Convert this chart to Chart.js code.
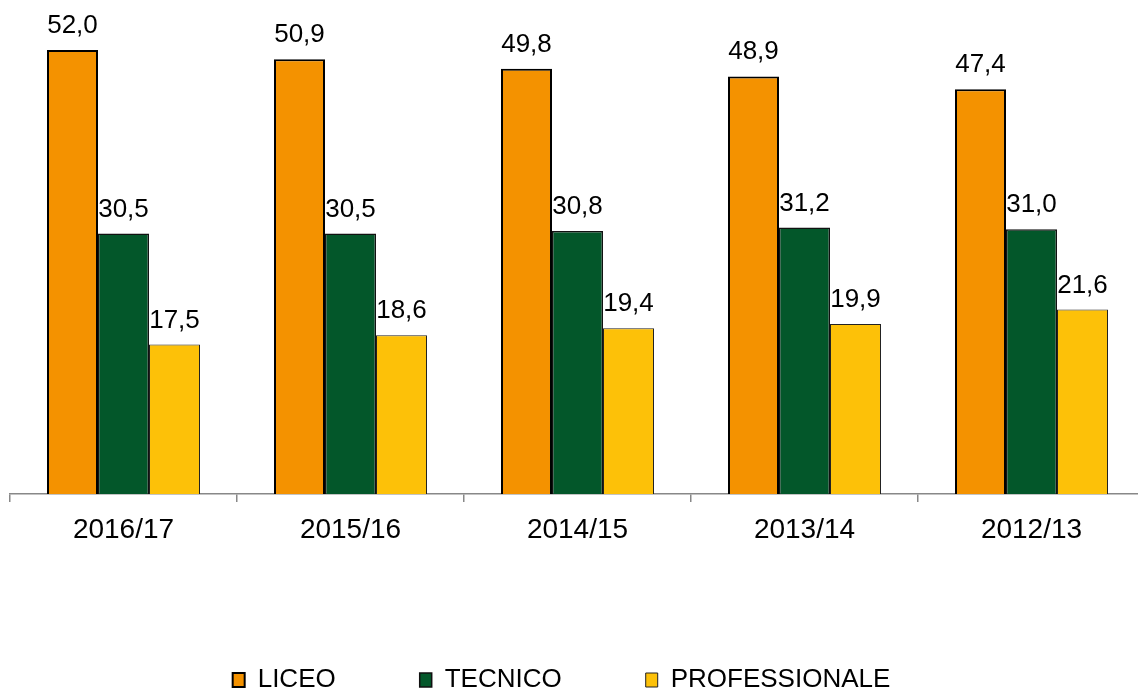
<!DOCTYPE html>
<html>
<head>
<meta charset="utf-8">
<script src="https://cdn.jsdelivr.net/npm/chart.js@4/dist/chart.umd.min.js"></script>
<style>
    html, body { margin: 0; padding: 0; background: #fff; overflow: hidden; }
    #wrap { position: absolute; left: 0; top: 0; }
</style>
</head>
<body>
<div id="wrap"><canvas id="chart" width="1146" height="693"></canvas></div>
<script>
const categories = ['2016/17', '2015/16', '2014/15', '2013/14', '2012/13'];
const seriesNames = ['LICEO', 'TECNICO', 'PROFESSIONALE'];
const liceo = [52.0, 50.9, 49.8, 48.9, 47.4];
const tecnico = [30.5, 30.5, 30.8, 31.2, 31.0];
const professionale = [17.5, 18.6, 19.4, 19.9, 21.6];

const fontFamily = "'Liberation Sans', Arial, sans-serif";

function formatValue(v) {
    return v.toFixed(1).replace('.', ',');
}

// value labels above each bar
const barLabels = {
    id: 'barLabels',
    afterDatasetsDraw(chart) {
        const ctx = chart.ctx;
        ctx.save();
        ctx.font = '26px ' + fontFamily;
        ctx.fillStyle = '#000';
        ctx.textAlign = 'center';
        ctx.textBaseline = 'alphabetic';
        chart.data.datasets.forEach((ds, i) => {
            chart.getDatasetMeta(i).data.forEach((bar, j) => {
                ctx.fillText(formatValue(ds.data[j]), bar.x, bar.y - 17);
            });
        });
        ctx.restore();
    }
};

// move the legend a bit to the left, like the original
const legendShift = {
    id: 'legendShift',
    afterLayout(chart) {
        chart.legend.left -= 16;
        chart.legend.right -= 16;
    }
};

new Chart(document.getElementById('chart'), {
    type: 'bar',
    data: {
        labels: categories,
        datasets: [
            { label: seriesNames[0], data: liceo, backgroundColor: '#F49200', borderColor: '#000', borderWidth: 2 },
            { label: seriesNames[1], data: tecnico, backgroundColor: '#03572A', borderColor: '#111', borderWidth: 1.5 },
            { label: seriesNames[2], data: professionale, backgroundColor: '#FDC108', borderColor: '#222', borderWidth: 1 }
        ]
    },
    options: {
        responsive: false,
        animation: false,
        layout: { padding: { left: 10, right: 1, top: 0, bottom: -10 } },
        datasets: {
            bar: { categoryPercentage: 0.674, barPercentage: 1, borderSkipped: 'bottom' }
        },
        scales: {
            x: {
                grid: { offset: true, drawOnChartArea: false, drawTicks: true, tickLength: 8, color: '#888', lineWidth: 1.5 },
                border: { display: true, color: '#888', width: 1.5 },
                ticks: { color: '#000', padding: 11, font: { size: 28, family: fontFamily } },
                afterFit: function(scale) { scale.height = 89; }
            },
            y: { display: false, min: 0, max: 57.85 }
        },
        plugins: {
            legend: {
                position: 'bottom',
                labels: {
                    boxWidth: 12,
                    boxHeight: 14,
                    padding: 84,
                    color: '#000',
                    font: { size: 26, family: fontFamily }
                }
            },
            tooltip: { enabled: false }
        }
    },
    plugins: [barLabels, legendShift]
});
</script>
</body>
</html>
